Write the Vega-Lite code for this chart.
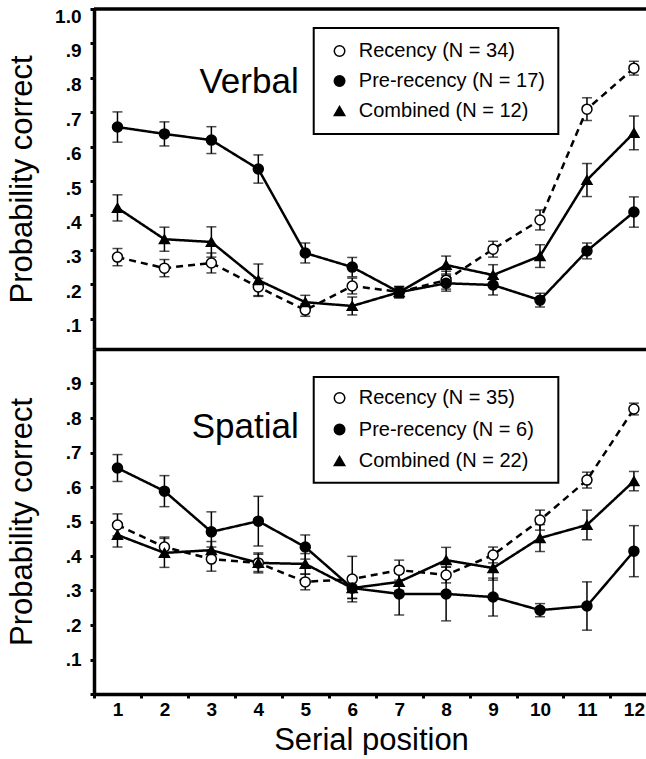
{
  "$schema": "https://vega.github.io/schema/vega-lite/v6.json",
  "padding": {"left": 6, "top": 7, "right": 0, "bottom": 0},
  "datasets": {
    "obs": [
      {"panel": "Verbal", "series": "Recency", "pos": 1, "p": 0.279, "e": 0.025},
      {"panel": "Verbal", "series": "Recency", "pos": 2, "p": 0.247, "e": 0.025},
      {"panel": "Verbal", "series": "Recency", "pos": 3, "p": 0.262, "e": 0.029},
      {"panel": "Verbal", "series": "Recency", "pos": 4, "p": 0.192, "e": 0.025},
      {"panel": "Verbal", "series": "Recency", "pos": 5, "p": 0.125, "e": 0.018},
      {"panel": "Verbal", "series": "Recency", "pos": 6, "p": 0.195, "e": 0.023},
      {"panel": "Verbal", "series": "Recency", "pos": 7, "p": 0.178, "e": 0.015},
      {"panel": "Verbal", "series": "Recency", "pos": 8, "p": 0.212, "e": 0.026},
      {"panel": "Verbal", "series": "Recency", "pos": 9, "p": 0.302, "e": 0.023},
      {"panel": "Verbal", "series": "Recency", "pos": 10, "p": 0.387, "e": 0.029},
      {"panel": "Verbal", "series": "Recency", "pos": 11, "p": 0.709, "e": 0.033},
      {"panel": "Verbal", "series": "Recency", "pos": 12, "p": 0.828, "e": 0.020},
      {"panel": "Verbal", "series": "Pre-recency", "pos": 1, "p": 0.657, "e": 0.044},
      {"panel": "Verbal", "series": "Pre-recency", "pos": 2, "p": 0.637, "e": 0.035},
      {"panel": "Verbal", "series": "Pre-recency", "pos": 3, "p": 0.619, "e": 0.039},
      {"panel": "Verbal", "series": "Pre-recency", "pos": 4, "p": 0.535, "e": 0.041},
      {"panel": "Verbal", "series": "Pre-recency", "pos": 5, "p": 0.291, "e": 0.029},
      {"panel": "Verbal", "series": "Pre-recency", "pos": 6, "p": 0.250, "e": 0.028},
      {"panel": "Verbal", "series": "Pre-recency", "pos": 7, "p": 0.177, "e": 0.017},
      {"panel": "Verbal", "series": "Pre-recency", "pos": 8, "p": 0.203, "e": 0.023},
      {"panel": "Verbal", "series": "Pre-recency", "pos": 9, "p": 0.198, "e": 0.029},
      {"panel": "Verbal", "series": "Pre-recency", "pos": 10, "p": 0.154, "e": 0.020},
      {"panel": "Verbal", "series": "Pre-recency", "pos": 11, "p": 0.297, "e": 0.023},
      {"panel": "Verbal", "series": "Pre-recency", "pos": 12, "p": 0.410, "e": 0.044},
      {"panel": "Verbal", "series": "Combined", "pos": 1, "p": 0.422, "e": 0.038},
      {"panel": "Verbal", "series": "Combined", "pos": 2, "p": 0.331, "e": 0.035},
      {"panel": "Verbal", "series": "Combined", "pos": 3, "p": 0.323, "e": 0.044},
      {"panel": "Verbal", "series": "Combined", "pos": 4, "p": 0.212, "e": 0.047},
      {"panel": "Verbal", "series": "Combined", "pos": 5, "p": 0.148, "e": 0.020},
      {"panel": "Verbal", "series": "Combined", "pos": 6, "p": 0.137, "e": 0.026},
      {"panel": "Verbal", "series": "Combined", "pos": 7, "p": 0.177, "e": 0.015},
      {"panel": "Verbal", "series": "Combined", "pos": 8, "p": 0.256, "e": 0.026},
      {"panel": "Verbal", "series": "Combined", "pos": 9, "p": 0.227, "e": 0.030},
      {"panel": "Verbal", "series": "Combined", "pos": 10, "p": 0.282, "e": 0.033},
      {"panel": "Verbal", "series": "Combined", "pos": 11, "p": 0.503, "e": 0.048},
      {"panel": "Verbal", "series": "Combined", "pos": 12, "p": 0.640, "e": 0.049},
      {"panel": "Spatial", "series": "Recency", "pos": 1, "p": 0.490, "e": 0.032},
      {"panel": "Spatial", "series": "Recency", "pos": 2, "p": 0.426, "e": 0.029},
      {"panel": "Spatial", "series": "Recency", "pos": 3, "p": 0.391, "e": 0.035},
      {"panel": "Spatial", "series": "Recency", "pos": 4, "p": 0.380, "e": 0.029},
      {"panel": "Spatial", "series": "Recency", "pos": 5, "p": 0.325, "e": 0.023},
      {"panel": "Spatial", "series": "Recency", "pos": 6, "p": 0.333, "e": 0.066},
      {"panel": "Spatial", "series": "Recency", "pos": 7, "p": 0.359, "e": 0.029},
      {"panel": "Spatial", "series": "Recency", "pos": 8, "p": 0.345, "e": 0.023},
      {"panel": "Spatial", "series": "Recency", "pos": 9, "p": 0.403, "e": 0.023},
      {"panel": "Spatial", "series": "Recency", "pos": 10, "p": 0.504, "e": 0.029},
      {"panel": "Spatial", "series": "Recency", "pos": 11, "p": 0.620, "e": 0.023},
      {"panel": "Spatial", "series": "Recency", "pos": 12, "p": 0.826, "e": 0.017},
      {"panel": "Spatial", "series": "Pre-recency", "pos": 1, "p": 0.655, "e": 0.039},
      {"panel": "Spatial", "series": "Pre-recency", "pos": 2, "p": 0.588, "e": 0.045},
      {"panel": "Spatial", "series": "Pre-recency", "pos": 3, "p": 0.470, "e": 0.058},
      {"panel": "Spatial", "series": "Pre-recency", "pos": 4, "p": 0.501, "e": 0.072},
      {"panel": "Spatial", "series": "Pre-recency", "pos": 5, "p": 0.426, "e": 0.035},
      {"panel": "Spatial", "series": "Pre-recency", "pos": 6, "p": 0.307, "e": 0.030},
      {"panel": "Spatial", "series": "Pre-recency", "pos": 7, "p": 0.290, "e": 0.061},
      {"panel": "Spatial", "series": "Pre-recency", "pos": 8, "p": 0.290, "e": 0.078},
      {"panel": "Spatial", "series": "Pre-recency", "pos": 9, "p": 0.281, "e": 0.055},
      {"panel": "Spatial", "series": "Pre-recency", "pos": 10, "p": 0.243, "e": 0.019},
      {"panel": "Spatial", "series": "Pre-recency", "pos": 11, "p": 0.255, "e": 0.070},
      {"panel": "Spatial", "series": "Pre-recency", "pos": 12, "p": 0.414, "e": 0.074},
      {"panel": "Spatial", "series": "Combined", "pos": 1, "p": 0.461, "e": 0.035},
      {"panel": "Spatial", "series": "Combined", "pos": 2, "p": 0.409, "e": 0.042},
      {"panel": "Spatial", "series": "Combined", "pos": 3, "p": 0.417, "e": 0.025},
      {"panel": "Spatial", "series": "Combined", "pos": 4, "p": 0.380, "e": 0.025},
      {"panel": "Spatial", "series": "Combined", "pos": 5, "p": 0.377, "e": 0.030},
      {"panel": "Spatial", "series": "Combined", "pos": 6, "p": 0.307, "e": 0.030},
      {"panel": "Spatial", "series": "Combined", "pos": 7, "p": 0.325, "e": 0.025},
      {"panel": "Spatial", "series": "Combined", "pos": 8, "p": 0.388, "e": 0.037},
      {"panel": "Spatial", "series": "Combined", "pos": 9, "p": 0.365, "e": 0.035},
      {"panel": "Spatial", "series": "Combined", "pos": 10, "p": 0.452, "e": 0.039},
      {"panel": "Spatial", "series": "Combined", "pos": 11, "p": 0.490, "e": 0.043},
      {"panel": "Spatial", "series": "Combined", "pos": 12, "p": 0.617, "e": 0.028}
    ],
    "legendVerbal": [
      {"series": "Recency", "label": "Recency (N = 34)"},
      {"series": "Pre-recency", "label": "Pre-recency (N = 17)"},
      {"series": "Combined", "label": "Combined (N = 12)"}
    ],
    "legendSpatial": [
      {"series": "Recency", "label": "Recency (N = 35)"},
      {"series": "Pre-recency", "label": "Pre-recency (N = 6)"},
      {"series": "Combined", "label": "Combined (N = 22)"}
    ]
  },
  "vconcat": [
    {
      "width": 554,
      "height": 340,
      "layer": [
        {
          "layer": [
            {
              "data": {"name": "obs"},
              "transform": [{"filter": "datum.panel === 'Verbal'"}],
              "mark": {"type": "errorbar", "ticks": true, "size": 10, "thickness": 1.5, "color": "black"},
              "encoding": {
                "x": {"field": "pos", "type": "quantitative", "scale": {"domain": [0.5, 12.3], "nice": false, "zero": false}, "axis": {"title": null, "labels": false, "ticks": false}},
                "y": {"field": "p", "type": "quantitative", "scale": {"domain": [0.012, 1.0], "nice": false, "zero": false},
                  "axis": {"title": "Probability correct", "values": [0.1, 0.2, 0.3, 0.4, 0.5, 0.6, 0.7, 0.8, 0.9, 1.0], "tickCount": 100,
                    "labelExpr": "datum.value >= 0.99 ? '1.0' : replace(format(datum.value, '.1f'), '0.', '.')",
                    "labelOffset": 7, "titleX": -56, "labelFlush": false, "labelOverlap": false, "labelBound": false}},
                "yError": {"field": "e"},
                "detail": {"field": "series"}
              }
            },
            {
              "data": {"name": "obs"},
              "transform": [{"filter": "datum.panel === 'Verbal'"}],
              "mark": {"type": "line", "color": "black", "strokeWidth": 2.5},
              "encoding": {
                "x": {"field": "pos", "type": "quantitative"},
                "y": {"field": "p", "type": "quantitative"},
                "strokeDash": {"field": "series", "type": "nominal", "scale": {"domain": ["Recency", "Pre-recency", "Combined"], "range": [[7, 5], [1, 0], [1, 0]]}, "legend": null}
              }
            },
            {
              "data": {"name": "obs"},
              "transform": [{"filter": "datum.panel === 'Verbal'"}],
              "mark": {"type": "point", "filled": true, "opacity": 1, "stroke": "black", "strokeWidth": 1.5, "size": 100},
              "encoding": {
                "x": {"field": "pos", "type": "quantitative"},
                "y": {"field": "p", "type": "quantitative"},
                "shape": {"field": "series", "type": "nominal", "scale": {"domain": ["Recency", "Pre-recency", "Combined"], "range": ["circle", "circle", "triangle-up"]}, "legend": null},
                "fill": {"field": "series", "type": "nominal", "scale": {"domain": ["Recency", "Pre-recency", "Combined"], "range": ["white", "black", "black"]}, "legend": null}
              }
            },
            {
              "data": {"values": [{"label": "Verbal"}]},
              "mark": {"type": "text", "align": "right", "baseline": "alphabetic", "fontSize": 35, "font": "Liberation Sans", "color": "black"},
              "encoding": {
                "x": {"datum": 4.86, "type": "quantitative"},
                "y": {"datum": 0.756, "type": "quantitative"},
                "text": {"field": "label"}
              }
            },
            {
              "data": {"values": [{"label": "top"}]},
              "mark": {"type": "rule", "color": "black", "strokeWidth": 3.5},
              "encoding": {"y": {"datum": 1.0, "type": "quantitative"}}
            },
            {
              "data": {"values": [{"label": "box"}]},
              "mark": {"type": "rect", "fill": "white", "stroke": "black", "strokeWidth": 2},
              "encoding": {
                "x": {"datum": 5.18, "type": "quantitative"},
                "x2": {"datum": 10.39},
                "y": {"datum": 0.945, "type": "quantitative"},
                "y2": {"datum": 0.637}
              }
            }
          ]
        },
        {
          "data": {"name": "legendVerbal"},
          "encoding": {
            "y": {"field": "series", "type": "nominal", "scale": {"type": "point", "domain": ["Recency", "Pre-recency", "Combined"], "range": [42, 102], "padding": 0}, "axis": null}
          },
          "layer": [
            {
              "mark": {"type": "point", "filled": true, "opacity": 1, "stroke": "black", "strokeWidth": 1.5, "size": 110},
              "encoding": {
                "x": {"datum": 5.73, "type": "quantitative"},
                "shape": {"field": "series", "type": "nominal", "legend": null},
                "fill": {"field": "series", "type": "nominal", "legend": null}
              }
            },
            {
              "mark": {"type": "text", "align": "left", "baseline": "middle", "fontSize": 20, "font": "Liberation Sans", "color": "black"},
              "encoding": {
                "x": {"datum": 6.14, "type": "quantitative"},
                "text": {"field": "label"}
              }
            }
          ]
        }
      ],
      "resolve": {"scale": {"y": "independent"}}
    },
    {
      "width": 554,
      "height": 345,
      "layer": [
        {
          "layer": [
            {
              "data": {"name": "obs"},
              "transform": [{"filter": "datum.panel === 'Spatial'"}],
              "mark": {"type": "errorbar", "ticks": true, "size": 10, "thickness": 1.5, "color": "black"},
              "encoding": {
                "x": {"field": "pos", "type": "quantitative", "scale": {"domain": [0.5, 12.3], "nice": false, "zero": false},
                  "axis": {"title": "Serial position", "values": [0.5, 1, 1.5, 2, 2.5, 3, 3.5, 4, 4.5, 5, 5.5, 6, 6.5, 7, 7.5, 8, 8.5, 9, 9.5, 10, 10.5, 11, 11.5, 12], "tickCount": 100,
                    "labelExpr": "datum.value % 1 == 0 ? format(datum.value, 'd') : ''",
                    "tickOpacity": {"condition": {"test": "datum.value % 1 == 0", "value": 0}, "value": 1},
                    "labelPadding": 2, "labelFlush": false, "labelOverlap": false, "labelBound": false, "titlePadding": 6}},
                "y": {"field": "p", "type": "quantitative", "scale": {"domain": [0, 1.0], "nice": false, "zero": false},
                  "axis": {"title": "Probability correct", "values": [0, 0.1, 0.2, 0.3, 0.4, 0.5, 0.6, 0.7, 0.8, 0.9], "tickCount": 100,
                    "labelExpr": "datum.value == 0 ? '' : replace(format(datum.value, '.1f'), '0.', '.')",
                    "titleX": -56, "labelFlush": false, "labelOverlap": false, "labelBound": false}},
                "yError": {"field": "e"},
                "detail": {"field": "series"}
              }
            },
            {
              "data": {"name": "obs"},
              "transform": [{"filter": "datum.panel === 'Spatial'"}],
              "mark": {"type": "line", "color": "black", "strokeWidth": 2.5},
              "encoding": {
                "x": {"field": "pos", "type": "quantitative"},
                "y": {"field": "p", "type": "quantitative"},
                "strokeDash": {"field": "series", "type": "nominal", "scale": {"domain": ["Recency", "Pre-recency", "Combined"], "range": [[7, 5], [1, 0], [1, 0]]}, "legend": null}
              }
            },
            {
              "data": {"name": "obs"},
              "transform": [{"filter": "datum.panel === 'Spatial'"}],
              "mark": {"type": "point", "filled": true, "opacity": 1, "stroke": "black", "strokeWidth": 1.5, "size": 100},
              "encoding": {
                "x": {"field": "pos", "type": "quantitative"},
                "y": {"field": "p", "type": "quantitative"},
                "shape": {"field": "series", "type": "nominal", "scale": {"domain": ["Recency", "Pre-recency", "Combined"], "range": ["circle", "circle", "triangle-up"]}, "legend": null},
                "fill": {"field": "series", "type": "nominal", "scale": {"domain": ["Recency", "Pre-recency", "Combined"], "range": ["white", "black", "black"]}, "legend": null}
              }
            },
            {
              "data": {"values": [{"label": "Spatial"}]},
              "mark": {"type": "text", "align": "right", "baseline": "alphabetic", "fontSize": 35, "font": "Liberation Sans", "color": "black"},
              "encoding": {
                "x": {"datum": 4.86, "type": "quantitative"},
                "y": {"datum": 0.742, "type": "quantitative"},
                "text": {"field": "label"}
              }
            },
            {
              "data": {"values": [{"label": "box"}]},
              "mark": {"type": "rect", "fill": "white", "stroke": "black", "strokeWidth": 2},
              "encoding": {
                "x": {"datum": 5.18, "type": "quantitative"},
                "x2": {"datum": 10.39},
                "y": {"datum": 0.919, "type": "quantitative"},
                "y2": {"datum": 0.612}
              }
            }
          ]
        },
        {
          "data": {"name": "legendSpatial"},
          "encoding": {
            "y": {"field": "series", "type": "nominal", "scale": {"type": "point", "domain": ["Recency", "Pre-recency", "Combined"], "range": [49, 112], "padding": 0}, "axis": null}
          },
          "layer": [
            {
              "mark": {"type": "point", "filled": true, "opacity": 1, "stroke": "black", "strokeWidth": 1.5, "size": 110},
              "encoding": {
                "x": {"datum": 5.73, "type": "quantitative"},
                "shape": {"field": "series", "type": "nominal", "legend": null},
                "fill": {"field": "series", "type": "nominal", "legend": null}
              }
            },
            {
              "mark": {"type": "text", "align": "left", "baseline": "middle", "fontSize": 20, "font": "Liberation Sans", "color": "black"},
              "encoding": {
                "x": {"datum": 6.14, "type": "quantitative"},
                "text": {"field": "label"}
              }
            }
          ]
        }
      ],
      "resolve": {"scale": {"y": "independent"}}
    }
  ],
  "spacing": 0,
  "resolve": {
    "scale": {"y": "independent", "shape": "independent", "fill": "independent", "strokeDash": "independent"}
  },
  "config": {
    "font": "Liberation Sans",
    "view": {"stroke": null},
    "concat": {"spacing": 0},
    "axis": {
      "domainColor": "black", "domainWidth": 3.5, "tickColor": "black", "tickWidth": 3, "tickSize": 4, "labelOverlap": false,
      "labelColor": "black", "labelFont": "Liberation Sans", "labelFontWeight": "bold", "labelFontSize": 19, "labelPadding": 9,
      "titleFont": "Liberation Sans", "titleFontWeight": "normal", "titleFontSize": 31, "titleColor": "black", "grid": false
    }
  }
}
